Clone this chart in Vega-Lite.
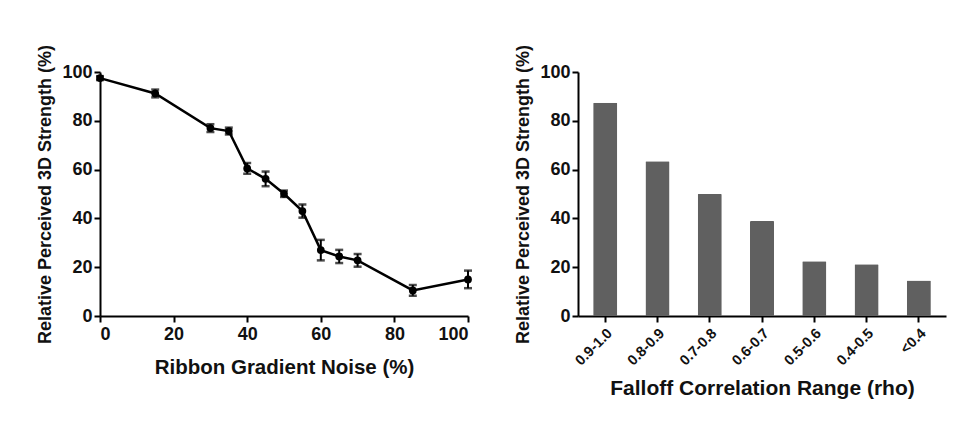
{
  "$schema": "https://vega.github.io/schema/vega-lite/v6.json",
  "background": "white",
  "padding": {"left": 36, "top": 44, "right": 10, "bottom": 5},
  "spacing": 41,
  "config": {
    "font": "Liberation Sans",
    "view": {"stroke": null},
    "axis": {
      "domainColor": "black",
      "domainWidth": 2,
      "tickColor": "black",
      "tickWidth": 2,
      "tickSize": 6,
      "grid": false,
      "labelFont": "Liberation Sans",
      "labelFontWeight": "bold",
      "labelColor": "#111",
      "labelFontSize": 18,
      "titleFont": "Liberation Sans",
      "titleFontWeight": "bold",
      "titleColor": "#111"
    }
  },
  "datasets": {
    "noise": [
      {"noise": 0, "strength": 97.5, "lo": 96.7, "hi": 98.3},
      {"noise": 15, "strength": 91.2, "lo": 89.6, "hi": 92.8},
      {"noise": 30, "strength": 77.0, "lo": 75.4, "hi": 78.6},
      {"noise": 35, "strength": 75.8, "lo": 74.4, "hi": 77.2},
      {"noise": 40, "strength": 60.5, "lo": 58.3, "hi": 62.7},
      {"noise": 45, "strength": 56.2, "lo": 53.2, "hi": 59.2},
      {"noise": 50, "strength": 50.1, "lo": 48.8, "hi": 51.4},
      {"noise": 55, "strength": 43.0, "lo": 40.3, "hi": 45.7},
      {"noise": 60, "strength": 27.0, "lo": 22.8, "hi": 31.2},
      {"noise": 65, "strength": 24.4, "lo": 21.7, "hi": 27.1},
      {"noise": 70, "strength": 22.8, "lo": 20.2, "hi": 25.4},
      {"noise": 85, "strength": 10.5, "lo": 8.3, "hi": 12.7},
      {"noise": 100, "strength": 15.0, "lo": 11.4, "hi": 18.6}
    ],
    "rho": [
      {"range": "0.9-1.0", "strength": 87.4},
      {"range": "0.8-0.9", "strength": 63.4},
      {"range": "0.7-0.8", "strength": 50.0},
      {"range": "0.6-0.7", "strength": 38.9},
      {"range": "0.5-0.6", "strength": 22.4},
      {"range": "0.4-0.5", "strength": 21.2},
      {"range": "<0.4", "strength": 14.5}
    ]
  },
  "hconcat": [
    {
      "width": 368,
      "height": 244,
      "data": {"name": "noise"},
      "layer": [
        {
          "mark": {"type": "rule", "color": "black", "strokeWidth": 2},
          "encoding": {
            "x": {"field": "noise", "type": "quantitative"},
            "y": {"field": "lo", "type": "quantitative"},
            "y2": {"field": "hi"}
          }
        },
        {
          "mark": {"type": "tick", "color": "black", "orient": "horizontal", "size": 8, "thickness": 2.5},
          "encoding": {
            "x": {"field": "noise", "type": "quantitative"},
            "y": {"field": "lo", "type": "quantitative"}
          }
        },
        {
          "mark": {"type": "tick", "color": "black", "orient": "horizontal", "size": 8, "thickness": 2.5},
          "encoding": {
            "x": {"field": "noise", "type": "quantitative"},
            "y": {"field": "hi", "type": "quantitative"}
          }
        },
        {
          "mark": {"type": "line", "color": "black", "strokeWidth": 2.5, "point": {"filled": true, "color": "black", "size": 60}},
          "encoding": {
            "x": {
              "field": "noise", "type": "quantitative",
              "scale": {"domain": [0, 100], "nice": false},
              "axis": {"values": [0, 20, 40, 60, 80, 100], "title": "Ribbon Gradient Noise (%)", "titleFontSize": 20.5, "titlePadding": 14, "labelPadding": 3}
            },
            "y": {
              "field": "strength", "type": "quantitative",
              "scale": {"domain": [0, 100], "nice": false},
              "axis": {"values": [0, 20, 40, 60, 80, 100], "title": "Relative Perceived 3D Strength (%)", "titleFontSize": 18, "titlePadding": 7, "labelPadding": 2}
            }
          }
        }
      ]
    },
    {
      "width": 368,
      "height": 244,
      "data": {"name": "rho"},
      "mark": {"type": "bar", "color": "#606060", "cornerRadius": 1},
      "encoding": {
        "x": {
          "field": "range", "type": "nominal", "sort": null,
          "scale": {"paddingInner": 0.54, "paddingOuter": 0.29},
          "axis": {"title": "Falloff Correlation Range (rho)", "titleFontSize": 21, "titlePadding": 10, "labelAngle": -45, "labelFontSize": 14.5, "labelPadding": 4}
        },
        "y": {
          "field": "strength", "type": "quantitative",
          "scale": {"domain": [0, 100], "nice": false},
          "axis": {"values": [0, 20, 40, 60, 80, 100], "title": "Relative Perceived 3D Strength (%)", "titleFontSize": 18, "titlePadding": 7, "labelPadding": 2}
        }
      }
    }
  ]
}
